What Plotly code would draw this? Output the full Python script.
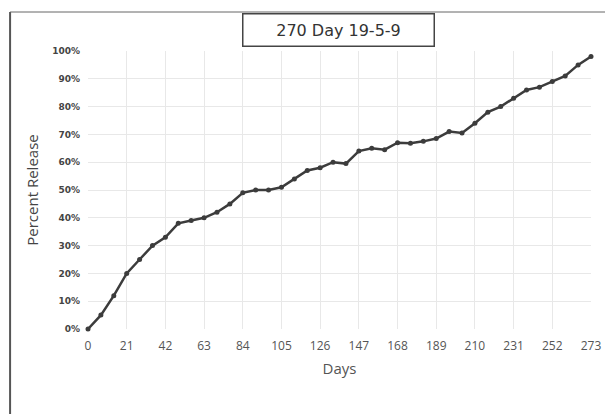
import plotly.graph_objects as go

days = [0, 7, 14, 21, 28, 35, 42, 49, 56, 63, 70, 77, 84, 91, 98, 105, 112, 119, 126, 133,
        140, 147, 154, 161, 168, 175, 182, 189, 196, 203, 210, 217, 224, 231, 238, 245,
        252, 259, 266, 273]
release = [0, 5, 12, 20, 25, 30, 33, 38, 39, 40, 42, 45, 49, 50, 50, 51, 54, 57, 58, 60,
           59.5, 64, 65, 64.5, 67, 66.8, 67.5, 68.5, 71, 70.5, 74, 78, 80, 83, 86, 87,
           89, 91, 95, 98]
x_ticks = list(range(0, 274, 21))
y_ticks = list(range(0, 101, 10))
y_labels = [f"{v}%" for v in y_ticks]
title_text = "270 Day 19-5-9"

OFF = 8  # page body margin
W, H = 613 - OFF, 414 - OFF
L, R, T, B = 88 - OFF, W - (598 - OFF), 51 - OFF, H - (329 - OFF)
pw, ph = W - L - R, H - T - B

def px(xp):
    return (xp - OFF - L) / pw

def py(yp):
    return (H - B - (yp - OFF)) / ph

fig = go.Figure()
fig.add_trace(go.Scatter(
    x=days, y=release, mode="lines+markers",
    line=dict(color="#3c3c3c", width=2.5),
    marker=dict(color="#3c3c3c", size=5),
    cliponaxis=False, hoverinfo="skip", showlegend=False,
))

fig.update_layout(
    width=W, height=H,
    margin=dict(l=L, r=R, t=T, b=B),
    paper_bgcolor="white", plot_bgcolor="white",
    font=dict(family="DejaVu Sans", color="#555555"),
    xaxis=dict(
        range=[0, 273], tickvals=x_ticks, ticktext=[str(v) for v in x_ticks],
        showgrid=True, gridcolor="#e8e8e8", gridwidth=1, zeroline=False,
        showline=False, ticks="", ticklabelstandoff=8,
        tickfont=dict(size=12, color="#555555", family="Open Sans"),
        title=dict(text="Days", font=dict(size=15, color="#555555", family="Open Sans"), standoff=10),
    ),
    yaxis=dict(
        range=[0, 100], tickvals=y_ticks, ticktext=y_labels,
        showgrid=True, gridcolor="#e8e8e8", gridwidth=1, zeroline=False,
        showline=False, ticks="", ticklabelstandoff=7,
        tickfont=dict(size=9, color="#444444", family="DejaVu Sans", weight="bold"),
        title=dict(text="Percent Release", font=dict(size=15, color="#444444", family="Open Sans"), standoff=9),
    ),
    annotations=[dict(
        text=title_text, xref="paper", yref="paper",
        x=px(342), y=py(30), xanchor="center", yanchor="middle",
        showarrow=False, font=dict(size=16, color="#333333", family="DejaVu Sans"),
        bordercolor="#444444", borderwidth=1.5, borderpad=6, bgcolor="white",
        width=178, height=19,
    )],
    shapes=[
        dict(type="line", xref="paper", yref="paper", x0=px(9), x1=px(9), y0=py(12), y1=py(414),
             line=dict(color="#555555", width=2)),
        dict(type="line", xref="paper", yref="paper", x0=px(9), x1=px(613), y0=py(12), y1=py(12),
             line=dict(color="#666666", width=1)),
    ],
)

fig.write_html("out.html")
